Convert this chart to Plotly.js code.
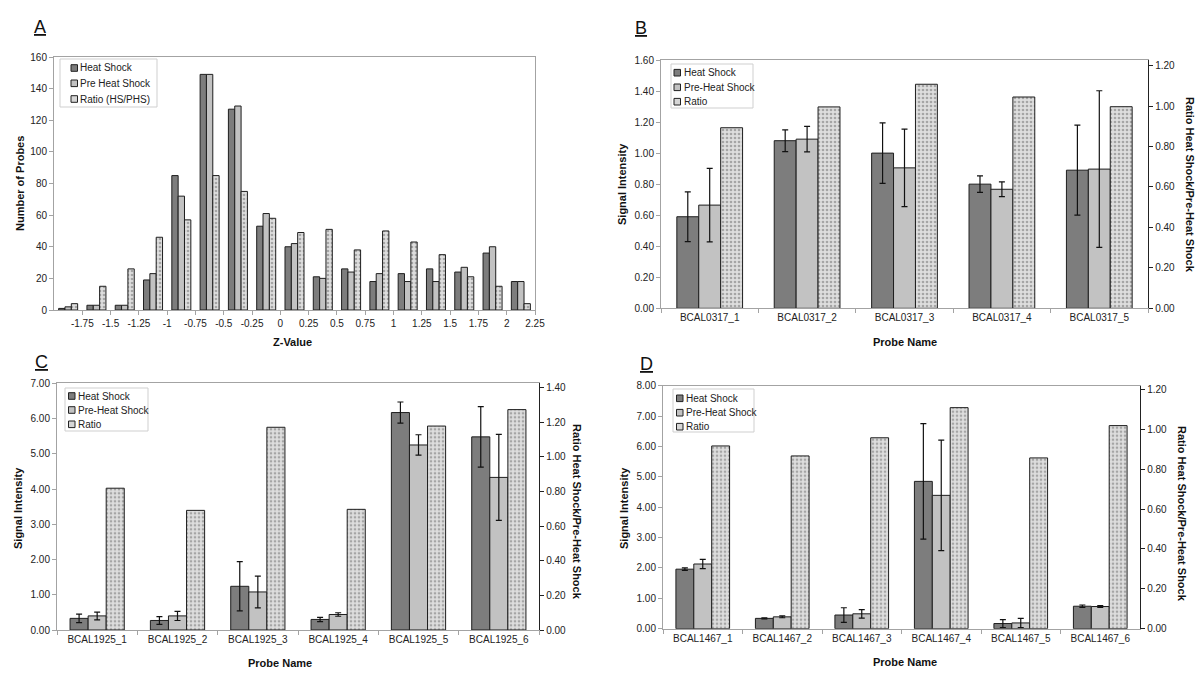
<!DOCTYPE html>
<html>
<head>
<meta charset="utf-8">
<script src="https://cdn.plot.ly/plotly-3.0.1.min.js"></script>
<style>html,body{margin:0;padding:0;background:#fff;}#chart{width:1200px;height:689px;}</style>
</head>
<body>
<div id="chart"></div>
<script>
// ---------- Data ----------
// Panel A: histogram of Z-values (bins labelled by upper edge)
const zEdges = [-1.75, -1.5, -1.25, -1, -0.75, -0.5, -0.25, 0, 0.25, 0.5, 0.75, 1, 1.25, 1.5, 1.75, 2, 2.25];
const zEdgeLabels = ['-1.75', '-1.5', '-1.25', '-1', '-0.75', '-0.5', '-0.25', '0', '0.25', '0.5', '0.75', '1', '1.25', '1.5', '1.75', '2', '2.25'];
const zHeatShock    = [1, 3, 3, 19, 85, 149, 127, 53, 40, 21, 26, 18, 23, 26, 24, 36, 18];
const zPreHeatShock = [2, 3, 3, 23, 72, 149, 129, 61, 42, 20, 24, 23, 18, 18, 27, 40, 18];
const zRatio        = [4, 15, 26, 46, 57, 85, 75, 58, 49, 51, 38, 50, 43, 35, 21, 15, 4];
const seriesNamesA  = ['Heat Shock', 'Pre Heat Shock', 'Ratio (HS/PHS)'];

// Panel B: BCAL0317
const probesB = ['BCAL0317_1', 'BCAL0317_2', 'BCAL0317_3', 'BCAL0317_4', 'BCAL0317_5'];
const bHS     = [0.59, 1.08, 1.00, 0.80, 0.89];
const bHSErr  = [0.16, 0.07, 0.195, 0.053, 0.29];
const bPHS    = [0.665, 1.09, 0.905, 0.767, 0.897];
const bPHSErr = [0.237, 0.082, 0.25, 0.048, 0.505];
const bRatio  = [0.893, 0.996, 1.108, 1.045, 0.997];

// Panel C: BCAL1925
const probesC = ['BCAL1925_1', 'BCAL1925_2', 'BCAL1925_3', 'BCAL1925_4', 'BCAL1925_5', 'BCAL1925_6'];
const cHS     = [0.33, 0.27, 1.24, 0.30, 6.17, 5.48];
const cHSErr  = [0.12, 0.11, 0.70, 0.06, 0.30, 0.86];
const cPHS    = [0.40, 0.40, 1.08, 0.44, 5.25, 4.33];
const cPHSErr = [0.11, 0.13, 0.45, 0.05, 0.29, 1.22];
const cRatio  = [0.819, 0.691, 1.171, 0.697, 1.178, 1.273];

// Panel D: BCAL1467
const probesD = ['BCAL1467_1', 'BCAL1467_2', 'BCAL1467_3', 'BCAL1467_4', 'BCAL1467_5', 'BCAL1467_6'];
const dHS     = [1.96, 0.34, 0.45, 4.85, 0.17, 0.74];
const dHSErr  = [0.04, 0.02, 0.24, 1.90, 0.13, 0.04];
const dPHS    = [2.13, 0.39, 0.49, 4.39, 0.19, 0.73];
const dPHSErr = [0.15, 0.03, 0.14, 1.82, 0.15, 0.03];
const dRatio  = [0.916, 0.866, 0.957, 1.108, 0.856, 1.018];
const seriesNames = ['Heat Shock', 'Pre-Heat Shock', 'Ratio'];

// ---------- Styles ----------
const W = 1200, H = 689;
const px = v => v / W;
const py = v => 1 - v / H;
const FONT = 'Liberation Sans, Arial, sans-serif';
const C_HS = '#7d7d7d', C_PHS = '#c2c2c2', C_RB = '#dedede', C_RF = '#a5a5a5';
const FILLS = [C_HS, C_PHS, '#d6d6d6'];
const OUTLINE = {color: '#1e1e1e', width: 1};
const ERR = {color: '#111', thickness: 1.2, width: 3};

function mk(kind) {
  if (kind === 0) return {color: C_HS, line: OUTLINE};
  if (kind === 1) return {color: C_PHS, line: OUTLINE};
  return {color: C_RB, line: OUTLINE, pattern: {shape: '.', fgcolor: C_RF, bgcolor: C_RB, size: 4, solidity: 0.35}};
}

function bar(x, y, err, name, kind, xa, ya, offset, width) {
  const t = {type: 'bar', x: x, y: y, name: name, xaxis: xa, yaxis: ya, showlegend: false,
    marker: mk(kind), offset: offset, width: width, hoverinfo: 'x+y+name'};
  if (err) t.error_y = Object.assign({type: 'data', array: err, visible: true}, ERR);
  return t;
}

const traces = [];
// Panel A (bins of width 0.25, x = upper edge, bars drawn to its left)
const aw = 0.056;
const a0 = -0.209;
traces.push(bar(zEdges, zHeatShock, null, seriesNamesA[0], 0, 'x', 'y', a0, aw));
traces.push(bar(zEdges, zPreHeatShock, null, seriesNamesA[1], 1, 'x', 'y', a0 + aw, aw));
traces.push(bar(zEdges, zRatio, null, seriesNamesA[2], 2, 'x', 'y', a0 + 2 * aw, aw));

// Grouped bars with a secondary (ratio) axis
const bw = 0.225, b0 = -0.3375;
function panel(probes, hs, hsErr, phs, phsErr, ratio, xa, yl, yr) {
  traces.push(bar(probes, hs, hsErr, seriesNames[0], 0, xa, yl, b0, bw));
  traces.push(bar(probes, phs, phsErr, seriesNames[1], 1, xa, yl, b0 + bw, bw));
  traces.push(bar(probes, ratio, null, seriesNames[2], 2, xa, yr, b0 + 2 * bw, bw));
}
panel(probesB, bHS, bHSErr, bPHS, bPHSErr, bRatio, 'x2', 'y2', 'y3');
panel(probesC, cHS, cHSErr, cPHS, cPHSErr, cRatio, 'x3', 'y4', 'y5');
panel(probesD, dHS, dHSErr, dPHS, dPHSErr, dRatio, 'x4', 'y6', 'y7');

// ---------- Axes ----------
const tickFont = {family: FONT, size: 10, color: '#222'};
const GRAY = '#a3a3a3';
function xCat(domain, anchor) {
  return {domain: domain, anchor: anchor, type: 'category', showline: true, linecolor: GRAY, linewidth: 1,
    mirror: true, ticks: 'outside', tickson: 'boundaries', ticklen: 4, tickcolor: GRAY,
    tickfont: tickFont, showgrid: false, zeroline: false, fixedrange: true};
}
function yLeft(domain, anchor, range, dtick) {
  return {domain: domain, anchor: anchor, range: range, dtick: dtick, tickformat: '.2f', showline: true,
    linecolor: GRAY, linewidth: 1, ticks: 'outside', ticklen: 4, tickcolor: GRAY, tickfont: tickFont,
    showgrid: false, zeroline: false, fixedrange: true};
}
function yRight(overlay, anchor, range) {
  return {overlaying: overlay, anchor: anchor, side: 'right', range: range, dtick: 0.2, tickformat: '.2f',
    showline: true, linecolor: '#222', linewidth: 1.2, ticks: 'outside', ticklen: 4, tickcolor: '#222',
    tickfont: tickFont, showgrid: false, zeroline: false, fixedrange: true};
}

const titleFont = {family: FONT, size: 11, color: '#111'};
const legFont = {family: FONT, size: 10, color: '#222'};
function ann(text, x, y, angle, font, xanchor) {
  return {text: text, x: px(x), y: py(y), xref: 'paper', yref: 'paper', showarrow: false,
    textangle: angle || 0, font: font || titleFont, xanchor: xanchor || 'center', yanchor: 'middle'};
}
const letterFont = {family: FONT, size: 18, color: '#111'};

// Compact legend boxes (drawn as layout shapes + text)
const shapes = [];
const annotations = [];
function legendBox(names, box, sq, textX, rows) {
  shapes.push({type: 'rect', xref: 'paper', yref: 'paper', x0: px(box[0]), x1: px(box[1]), y0: py(box[3]), y1: py(box[2]),
    line: {color: '#cfcfcf', width: 1}, fillcolor: '#fff', layer: 'above'});
  names.forEach((n, i) => {
    const cy = rows[i];
    shapes.push({type: 'rect', xref: 'paper', yref: 'paper', x0: px(sq), x1: px(sq + 6.5), y0: py(cy + 3.3), y1: py(cy - 3.3),
      line: {color: '#222', width: 1}, fillcolor: FILLS[i], layer: 'above'});
    annotations.push(ann(n, textX, cy, 0, legFont, 'left'));
  });
}
legendBox(seriesNamesA, [60, 157, 59, 107], 71, 77.5, [68, 83.3, 99]);
legendBox(seriesNames, [671, 753, 64, 108], 674, 681.5, [72.7, 87.3, 101.7]);
legendBox(seriesNames, [65, 148, 388, 431], 68.5, 76, [396, 410, 424.3]);
legendBox(seriesNames, [673, 754, 389, 432], 676.5, 683.5, [398.3, 412.7, 426.7]);

annotations.push(
  ann('<u>A</u>', 40, 27, 0, letterFont),
  ann('<u>B</u>', 641, 28, 0, letterFont),
  ann('<u>C</u>', 41, 362, 0, letterFont),
  ann('<u>D</u>', 646, 364, 0, letterFont),
  ann('<b>Number of Probes</b>', 20, 184, -90),
  ann('<b>Z-Value</b>', 292, 342, 0),
  ann('<b>Signal Intensity</b>', 622, 184, -90),
  ann('<b>Probe Name</b>', 905, 342, 0),
  ann('<b>Ratio Heat Shock/Pre-Heat Shock</b>', 1190, 185, 90),
  ann('<b>Signal Intensity</b>', 18, 508, -90),
  ann('<b>Probe Name</b>', 280, 663, 0),
  ann('<b>Ratio Heat Shock/Pre-Heat Shock</b>', 577, 512, 90),
  ann('<b>Signal Intensity</b>', 624, 508, -90),
  ann('<b>Probe Name</b>', 905, 662, 0),
  ann('<b>Ratio Heat Shock/Pre-Heat Shock</b>', 1182, 514, 90)
);

const layout = {
  width: W, height: H, autosize: false,
  margin: {l: 0, r: 0, t: 0, b: 0, pad: 0},
  paper_bgcolor: '#fff', plot_bgcolor: '#fff',
  font: {family: FONT, size: 10, color: '#222'},
  barmode: 'overlay',
  showlegend: false,
  xaxis: {domain: [px(54), px(535)], anchor: 'y', range: [-2, 2.25], tickvals: zEdges, ticktext: zEdgeLabels,
    showline: true, linecolor: GRAY, mirror: true, ticks: 'outside', ticklen: 4, tickcolor: GRAY,
    tickfont: tickFont, showgrid: false, zeroline: false, fixedrange: true},
  yaxis: {domain: [py(310), py(57)], anchor: 'x', range: [0, 160], dtick: 20, showline: true, linecolor: GRAY,
    mirror: true, ticks: 'outside', ticklen: 4, tickcolor: GRAY, tickfont: tickFont, showgrid: false,
    zeroline: false, fixedrange: true},
  xaxis2: xCat([px(661), px(1148)], 'y2'),
  yaxis2: yLeft([py(308.3), py(60)], 'x2', [0, 1.6], 0.2),
  yaxis3: yRight('y2', 'x2', [0, 1.228]),
  xaxis3: xCat([px(57), px(539)], 'y4'),
  yaxis4: yLeft([py(630), py(383.3)], 'x3', [0, 7], 1),
  yaxis5: yRight('y4', 'x3', [0, 1.425]),
  xaxis4: xCat([px(663), px(1140)], 'y6'),
  yaxis6: yLeft([py(628.7), py(385.7)], 'x4', [0, 8], 1),
  yaxis7: yRight('y6', 'x4', [0, 1.218]),
  shapes: shapes,
  annotations: annotations
};

Plotly.newPlot('chart', traces, layout, {displayModeBar: false, staticPlot: true});
</script>
</body>
</html>
